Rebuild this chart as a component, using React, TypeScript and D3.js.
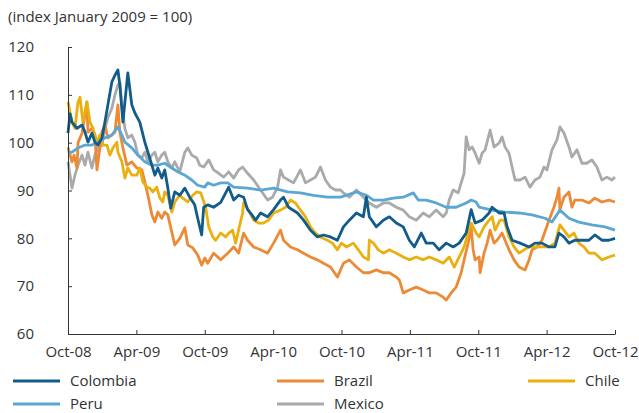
import { useEffect, useRef } from 'react'
import * as d3 from 'd3'

// x values are months since October 2008
const X_TICKS = [0, 6, 12, 18, 24, 30, 36, 42, 48]
const X_LABELS = ['Oct-08', 'Apr-09', 'Oct-09', 'Apr-10', 'Oct-10', 'Apr-11', 'Oct-11', 'Apr-12', 'Oct-12']
const Y_TICKS = [60, 70, 80, 90, 100, 110, 120]

type Pt = [number, number]

const colombia: Pt[] = [
  [0, 102], [0.18, 106], [0.35, 104.3], [0.79, 103], [1.23, 103.7], [1.49, 102.2], [1.75, 100.1], [2.1, 102],
  [2.36, 100.1], [2.63, 99.5], [2.98, 101], [3.24, 104.3], [3.5, 107.9], [3.85, 112.7], [4.12, 114.1], [4.38, 115.2],
  [4.55, 112], [4.82, 104.3], [5.17, 112.7], [5.25, 114.6], [5.6, 107.9], [5.87, 106.2], [6.3, 104.3], [6.74, 100.1],
  [7.01, 98], [7.36, 95.3], [7.62, 93.2], [7.88, 94.7], [8.23, 92.6], [8.49, 94.3], [8.76, 90.5], [9.02, 86.3],
  [9.37, 89.7], [9.81, 89], [10.25, 90.5], [10.68, 88.6], [11.12, 87], [11.38, 84.2], [11.73, 80.7], [11.91, 86.5],
  [12.26, 87], [12.78, 86.5], [13.4, 87.5], [14.1, 90.7], [14.54, 88], [14.97, 89], [15.41, 88.6], [15.76, 86],
  [16.11, 85], [16.46, 83.8], [16.9, 85.3], [17.51, 84.5], [18.04, 86], [18.65, 88], [18.91, 88.6], [19.35, 86.5],
  [20.14, 85.3], [20.67, 83.8], [21.28, 81.7], [21.89, 80.3], [22.42, 80.7], [23.03, 80.3], [23.64, 79.6], [24.17, 82.4],
  [24.69, 83.8], [25.31, 85.3], [25.92, 84.5], [26.18, 88.6], [26.44, 84.5], [27.06, 82.4], [27.67, 83.8], [28.2, 84.5],
  [28.81, 83.2], [29.42, 82.4], [29.95, 79.6], [30.39, 78.2], [31.0, 81.1], [31.44, 79], [32.05, 79], [32.57, 77.6],
  [33.19, 79], [33.8, 78.2], [34.33, 79], [34.94, 81.1], [35.38, 86], [35.73, 83.2], [36.34, 83.8], [36.95, 85.3],
  [37.22, 86.5], [37.83, 85.3], [38.27, 85.3], [38.53, 82.4], [38.97, 79.6], [39.67, 79], [40.46, 78.2], [40.98, 79],
  [41.59, 79], [42.21, 78.2], [42.73, 78.2], [43.08, 81.1], [43.52, 80.3], [43.96, 79], [44.48, 79.6], [45.1, 79.6],
  [45.71, 79.6], [46.23, 80.7], [46.85, 79.6], [47.46, 79.6], [48, 80],
]

const brazil: Pt[] = [
  [0, 99], [0.35, 96], [0.53, 97.4], [0.79, 94.7], [0.88, 100], [1.23, 102], [1.49, 105.8], [1.66, 108.5],
  [1.75, 102.2], [2.1, 103], [2.36, 101.6], [2.54, 94.3], [2.98, 102.2], [3.24, 103.7], [3.5, 101], [3.85, 101.6],
  [4.12, 102.2], [4.38, 107.9], [4.55, 102.2], [4.82, 98.9], [5.17, 95.3], [5.6, 96], [6.04, 94.7], [6.48, 94.3],
  [6.74, 91.8], [7.01, 89], [7.36, 84.9], [7.62, 83.4], [7.88, 85.5], [8.23, 84.2], [8.49, 85.5], [8.76, 84.9],
  [9.11, 81.3], [9.37, 78.6], [9.81, 80], [10.25, 82.2], [10.51, 78.6], [10.95, 78], [11.38, 76.5], [11.73, 74.4],
  [12.0, 75.9], [12.26, 74.8], [12.78, 76.9], [13.4, 75.5], [14.01, 76.9], [14.54, 78.2], [14.97, 76.9], [15.41, 81.1],
  [15.76, 79.6], [16.29, 78.2], [16.9, 77.6], [17.51, 76.9], [18.04, 79], [18.65, 81.7], [18.91, 79.6], [19.53, 78.2],
  [20.14, 77.6], [20.67, 76.9], [21.28, 76.1], [21.89, 75.5], [22.42, 74.8], [23.03, 74], [23.64, 71.9], [24.17, 74.8],
  [24.69, 75.5], [25.31, 74], [25.92, 72.8], [26.44, 72.8], [27.06, 73.4], [27.67, 72.8], [28.2, 72.8], [28.81, 71.9],
  [29.07, 71.3], [29.42, 68.6], [29.95, 69.2], [30.56, 69.8], [31.17, 69.2], [31.7, 68.6], [32.31, 68.6], [32.92, 67.7],
  [33.19, 67.1], [33.63, 68.6], [34.06, 69.8], [34.5, 72.8], [34.76, 75.5], [35.11, 79], [35.38, 82.4], [35.55, 77.6],
  [35.73, 75.5], [36.08, 76.1], [36.16, 72.8], [36.51, 76.9], [36.78, 79], [37.04, 81.7], [37.39, 79], [37.65, 79.6],
  [38.09, 81.1], [38.35, 79.6], [38.7, 77.6], [39.14, 75.5], [39.58, 74], [40.11, 73.4], [40.46, 75.5], [40.72, 77.6],
  [41.16, 78.2], [41.59, 79.6], [42.21, 83.8], [42.64, 86.5], [42.91, 88.6], [43.08, 90.5], [43.17, 86], [43.52, 88.6],
  [43.96, 89.7], [44.22, 86.5], [44.48, 88], [45.1, 88], [45.71, 87.4], [46.23, 88.4], [46.85, 87.6], [47.46, 88],
  [48, 87.6],
]

const chile: Pt[] = [
  [0, 108.5], [0.18, 106.4], [0.35, 104.3], [0.61, 103], [0.88, 108.5], [1.05, 109.5], [1.31, 104.3], [1.66, 108.5],
  [1.93, 104.3], [2.19, 103], [2.54, 100.1], [2.8, 101.6], [3.06, 99.5], [3.42, 99.5], [3.68, 97.4], [3.94, 98.9],
  [4.29, 100.1], [4.38, 98], [4.73, 96], [4.99, 92.6], [5.25, 94.7], [5.6, 93.2], [6.04, 93.2], [6.3, 94.7],
  [6.57, 91.8], [6.92, 90.7], [7.18, 90.5], [7.44, 89.7], [7.79, 90.7], [8.06, 88.4], [8.32, 87.6], [8.49, 89.7],
  [8.76, 89], [9.11, 85.5], [9.37, 87.6], [9.81, 89], [10.07, 88.4], [10.51, 87.6], [10.95, 89], [11.3, 89.7],
  [11.65, 89.5], [12.08, 86.5], [12.35, 82.4], [12.7, 80.3], [12.96, 79.6], [13.4, 81.1], [13.84, 80.3], [14.1, 81.1],
  [14.45, 81.7], [14.71, 79], [14.97, 81.7], [15.32, 85.3], [15.41, 87.4], [15.85, 85.9], [16.29, 83.8], [16.73, 83.2],
  [17.16, 83.2], [17.6, 83.8], [18.04, 85.3], [18.65, 85.9], [19.09, 86.5], [19.53, 88], [19.96, 87.4], [20.4, 85.9],
  [20.84, 84.5], [21.28, 82.4], [21.72, 81.1], [22.15, 80.3], [22.77, 79.6], [23.2, 79], [23.64, 77.6], [23.99, 79],
  [24.43, 78.2], [25.04, 79], [25.48, 77.6], [25.92, 76.1], [26.36, 75.5], [26.44, 79.6], [26.8, 79], [27.23, 77.6],
  [27.67, 76.9], [28.2, 77.6], [28.81, 76.9], [29.42, 76.1], [29.95, 75.5], [30.56, 76.1], [31.17, 75.5], [31.7, 76.1],
  [32.31, 75.5], [32.92, 74.8], [33.45, 76.1], [33.89, 74], [34.33, 76.1], [34.76, 78.2], [35.11, 81.1], [35.38, 83.2],
  [35.81, 81.1], [36.08, 80.3], [36.51, 82.4], [36.95, 83.8], [37.22, 84.5], [37.48, 81.7], [37.92, 83.8], [38.27, 83.8],
  [38.7, 80.3], [39.14, 78.2], [39.58, 76.9], [40.02, 77.6], [40.46, 78.2], [40.98, 78.2], [41.59, 78.2], [42.21, 78.2],
  [42.73, 79], [43.17, 82.8], [43.52, 81.7], [43.96, 80.3], [44.4, 81.1], [44.83, 79], [45.27, 78.2], [45.71, 76.9],
  [46.23, 76.9], [46.85, 75.5], [47.46, 76.1], [48, 76.5],
]

const peru: Pt[] = [
  [0, 97.8], [0.35, 98], [0.88, 98.9], [1.49, 99.5], [2.1, 99.5], [2.63, 100.1], [3.24, 101], [3.85, 101.6],
  [4.38, 103.3], [4.73, 101.6], [4.99, 100.1], [5.6, 98.9], [6.13, 97.4], [6.74, 96], [7.36, 95.3], [7.88, 95.3],
  [8.49, 95.7], [9.11, 94.7], [9.63, 93.9], [10.25, 93.2], [10.86, 92.2], [11.38, 91.1], [12.0, 90.7], [12.26, 91.6],
  [12.78, 91.1], [13.4, 91.6], [14.01, 91.6], [14.54, 90.7], [15.76, 90.5], [16.9, 90.1], [18.04, 90.5], [19.26, 89.7],
  [20.4, 89.5], [21.54, 89], [22.77, 88.6], [23.91, 88.6], [24.43, 89], [25.31, 89.7], [26.18, 89], [26.8, 88],
  [27.67, 88], [28.55, 88.4], [29.42, 88.6], [30.3, 89.5], [30.74, 88], [31.44, 88], [32.31, 87.4], [33.19, 86.5],
  [34.06, 86.5], [34.94, 87.4], [35.38, 88], [35.81, 87.6], [36.08, 86.5], [37.22, 85.9], [38.35, 85.5], [39.58, 85.3],
  [40.72, 84.9], [41.86, 84.2], [42.47, 83.4], [43.17, 85.9], [43.96, 84.2], [44.83, 83.4], [45.97, 82.8], [47.11, 82.4],
  [48, 81.7],
]

const mexico: Pt[] = [
  [0, 96], [0.35, 90.5], [0.61, 93.2], [0.88, 95.3], [1.23, 97.4], [1.49, 95.3], [1.75, 98], [2.1, 94.7],
  [2.36, 97.4], [2.63, 98.9], [2.98, 99.5], [3.24, 103], [3.5, 105.2], [3.85, 107.2], [4.12, 110], [4.38, 112],
  [4.55, 112.7], [4.73, 107.9], [4.99, 103], [5.25, 101], [5.6, 101.6], [5.87, 100.1], [6.13, 97.4], [6.48, 96.8],
  [6.74, 98], [7.01, 96], [7.36, 97.4], [7.62, 98], [7.88, 96], [8.23, 97.4], [8.49, 98], [8.76, 96],
  [9.11, 94.7], [9.37, 96], [9.81, 93.9], [10.25, 98], [10.51, 98.9], [10.86, 97.4], [11.3, 96.8], [11.56, 95.3],
  [11.91, 94.9], [12.35, 96.4], [12.78, 94.3], [13.22, 93.6], [13.66, 92.8], [14.1, 93.9], [14.54, 92.6], [14.97, 94.3],
  [15.32, 94.9], [15.76, 93.6], [16.29, 92.2], [16.9, 90.1], [17.51, 88], [17.95, 88.6], [18.39, 90.7], [18.65, 94.3],
  [18.91, 92.8], [19.35, 92.2], [19.79, 91.6], [20.4, 94.3], [20.84, 91.6], [21.28, 92.2], [21.72, 92.8], [22.15, 94.9],
  [22.59, 92.2], [23.03, 90.7], [23.47, 90.1], [23.91, 90.1], [24.17, 89.5], [24.69, 88.6], [25.31, 90.1], [25.92, 88.6],
  [26.44, 87.4], [27.06, 86.5], [27.67, 87.4], [28.2, 87.4], [28.81, 86.5], [29.42, 85.9], [29.95, 84.5], [30.56, 83.8],
  [31.17, 85.3], [31.7, 84.5], [32.31, 85.9], [32.92, 84.5], [33.19, 85.3], [33.45, 88], [33.8, 90.1], [34.24, 89.5],
  [34.5, 91.6], [34.76, 93.6], [34.94, 101.2], [35.2, 98.5], [35.46, 99.1], [35.73, 97.8], [36.08, 95.7], [36.34, 97.8],
  [36.6, 98.5], [37.04, 102.6], [37.39, 99.1], [37.83, 99.9], [38.09, 101.2], [38.35, 99.1], [38.7, 97.8], [38.97, 94.9],
  [39.23, 92.2], [39.67, 92.2], [40.11, 92.8], [40.54, 90.7], [40.98, 92.2], [41.42, 92.8], [41.77, 94.9], [42.03, 94.3],
  [42.47, 98.5], [42.91, 100.6], [43.17, 103.3], [43.52, 102], [43.96, 99.1], [44.22, 97], [44.66, 98.5], [45.1, 95.7],
  [45.53, 95.7], [45.97, 96.4], [46.41, 94.9], [46.85, 92.2], [47.29, 92.8], [47.72, 92.2], [48, 92.8],
]

const SERIES = [
  { name: 'Mexico', data: mexico, color: '#a9aaac' },
  { name: 'Brazil', data: brazil, color: '#ec8a36' },
  { name: 'Chile', data: chile, color: '#e9b00f' },
  { name: 'Peru', data: peru, color: '#5aa7d3' },
  { name: 'Colombia', data: colombia, color: '#125c8b' },
]

// legend order as in the source, row by row
const LEGEND = [
  ['Colombia', 'Brazil', 'Chile'],
  ['Peru', 'Mexico'],
]

const FONT = '"Open Sans", "Noto Sans", sans-serif'
const TEXT = '#333'
const FS = 15

export default function App() {
  const svgRef = useRef<SVGSVGElement>(null)

  useEffect(() => {
    document.body.style.margin = '0'
    if (!svgRef.current) return

    const width = 639
    const height = 413
    const margin = { top: 47, right: 24, bottom: 79, left: 68 }
    const W = width - margin.left - margin.right
    const H = height - margin.top - margin.bottom

    const svg = d3.select(svgRef.current)
    svg.selectAll('*').remove()

    svg.append('text').attr('x', 8).attr('y', 22)
      .attr('font-family', FONT).attr('font-size', FS).attr('fill', TEXT)
      .text('(index January 2009 = 100)')

    const g = svg.append('g').attr('transform', `translate(${margin.left},${margin.top})`)

    const x = d3.scaleLinear().domain([0, 48]).range([0, W])
    const y = d3.scaleLinear().domain([60, 120]).range([H, 0])

    const line = d3.line<Pt>().x(d => x(d[0])).y(d => y(d[1]))

    SERIES.forEach(s => {
      g.append('path').datum(s.data).attr('d', line)
        .attr('fill', 'none').attr('stroke', s.color).attr('stroke-width', 2.8)
        .attr('stroke-linejoin', 'round')
    })

    // axes
    g.append('g')
      .call(d3.axisLeft(y).tickValues(Y_TICKS).tickSize(-4).tickSizeOuter(0).tickPadding(34))
      .call(a => a.selectAll('.domain, .tick line').attr('stroke', TEXT))
      .call(a => a.selectAll('.tick text').attr('fill', TEXT).attr('font-size', FS).attr('font-family', FONT))

    g.append('g').attr('transform', `translate(0,${H})`)
      .call(d3.axisBottom(x).tickValues(X_TICKS).tickSize(-4).tickSizeOuter(0).tickPadding(12)
        .tickFormat((_, i) => X_LABELS[i]))
      .call(a => a.selectAll('.domain, .tick line').attr('stroke', TEXT))
      .call(a => a.selectAll('.tick text').attr('fill', TEXT).attr('font-size', FS).attr('font-family', FONT))

    // legend
    const colX = [13, 277, 528]
    const rowY = [381, 404]
    LEGEND.forEach((row, r) => {
      row.forEach((name, c) => {
        const s = SERIES.find(d => d.name === name)!
        svg.append('line')
          .attr('x1', colX[c]).attr('x2', colX[c] + 47)
          .attr('y1', rowY[r]).attr('y2', rowY[r])
          .attr('stroke', s.color).attr('stroke-width', 3)
        svg.append('text').attr('x', colX[c] + 57).attr('y', rowY[r] + 5)
          .attr('font-family', FONT).attr('font-size', FS).attr('fill', TEXT)
          .text(name)
      })
    })
  }, [])

  return <svg ref={svgRef} width={639} height={413} style={{ display: 'block' }} />
}
